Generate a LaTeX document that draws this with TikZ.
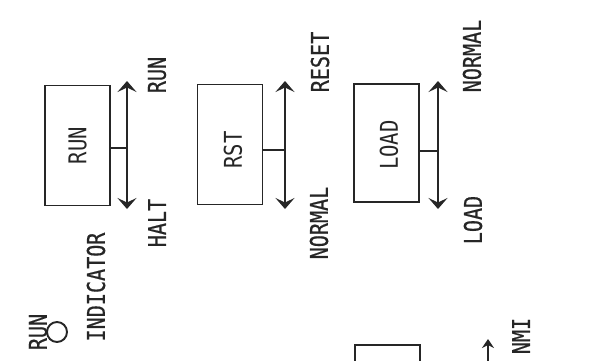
\documentclass[tikz,border=0pt]{standalone}
\usepackage{fontspec}
\newfontfamily\panelfont[FakeStretch=0.84]{DejaVu Sans Mono}
\newfontfamily\panelbold[FakeStretch=0.82,FakeBold=0.6]{DejaVu Sans Mono}
\usetikzlibrary{arrows.meta}
\definecolor{ink}{gray}{0.15}
\tikzset{
  switchbox/.style={draw=ink, line width=1.9pt, rectangle, minimum width=65pt, minimum height=120pt, inner sep=0pt},
  intxt/.style={text=ink, font=\panelfont\fontsize{24.5}{26}\selectfont, inner sep=0pt, rotate=90},
  lbl/.style={text=ink, font=\panelbold\fontsize{24.5}{26}\selectfont, inner sep=0pt, rotate=90},
  toggle/.style={draw=ink, line width=2.5pt, {Stealth[length=11pt,width=19pt,inset=4.5pt]}-{Stealth[length=11pt,width=19pt,inset=4.5pt]}},
  tick/.style={draw=ink, line width=2pt},
}
\begin{document}
\begin{tikzpicture}[x=1pt,y=-1pt]
\useasboundingbox (0,0) rectangle (605,360);
\clip (0,0) rectangle (605,360);
% RUN switch
\node[switchbox] (runbox) at (77.5,145.5) {};
\node[intxt] (runtxt) at (runbox.center) {RUN};
\coordinate (runtop) at (127,81);
\coordinate (runbot) at (127,209);
\draw[toggle] (runtop) -- (runbot);
\draw[tick] (runbox.east) ++(0,2) coordinate (runtick) -- (runtick -| runtop);
\node[lbl] (runlbl) at (157,75) {RUN};
\node[lbl] (haltlbl) at (157,223) {HALT};
% RST switch
\node[switchbox] (rstbox) at (230,144.5) {};
\node[intxt] (rsttxt) at (233,150) {RST};
\coordinate (rsttop) at (285,81);
\coordinate (rstbot) at (285,209);
\draw[toggle] (rsttop) -- (rstbot);
\draw[tick] (rstbox.east) ++(0,5) coordinate (rsttick) -- (rsttick -| rsttop);
\node[lbl] (resetlbl) at (320,62) {RESET};
\node[lbl] (normlbl1) at (319,223) {NORMAL};
% LOAD switch
\node[switchbox, minimum height=118pt] (loadbox) at (386.5,143) {};
\node[intxt] (loadtxt) at (389,145) {LOAD};
\coordinate (loadtop) at (438,81);
\coordinate (loadbot) at (438,209);
\draw[toggle] (loadtop) -- (loadbot);
\draw[tick] (loadbox.east) ++(0,8) coordinate (loadtick) -- (loadtick -| loadtop);
\node[lbl] (normlbl2) at (472,56) {NORMAL};
\node[lbl] (loadlbl) at (473,220) {LOAD};
% Run indicator
\node[draw=ink, line width=1.9pt, circle, minimum size=20pt, inner sep=0pt] (lamp) at (57,332) {};
\node[lbl] (lamplbl) at (38,332) {RUN};
\node[lbl] (indlbl) at (96,287) {INDICATOR};
% NMI switch (partly shown)
\node[switchbox, minimum height=60pt, anchor=north] (nmibox) at (387.5,344) {};
\coordinate (nmitop) at (488,339);
\coordinate (nmibot) at (488,370);
\draw[draw=ink, line width=2.2pt, -{Stealth[length=9pt,width=12pt,inset=3pt]}] (nmibot) -- (nmitop);
\node[lbl] (nmilbl) at (521,336) {NMI};
\end{tikzpicture}
\end{document}
